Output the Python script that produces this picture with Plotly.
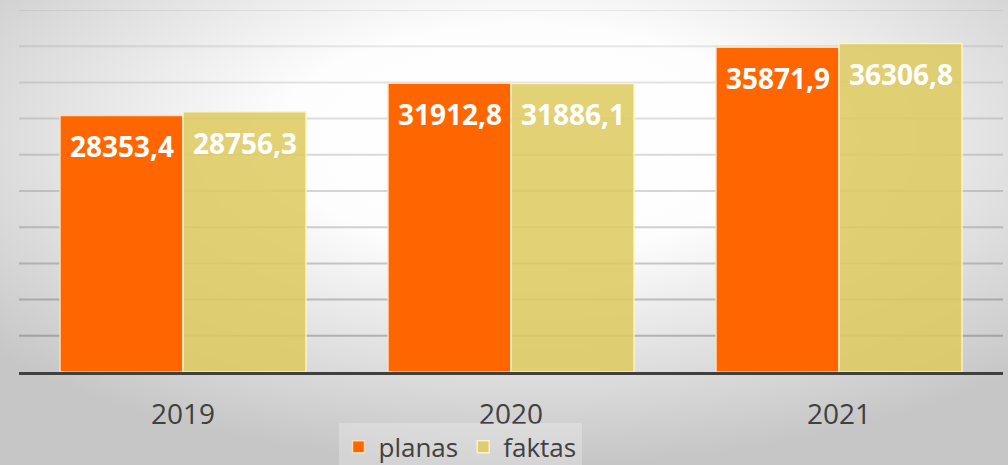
import base64
import plotly.graph_objects as go

years = ["2019", "2020", "2021"]
planas = [28353.4, 31912.8, 35871.9]
faktas = [28756.3, 31886.1, 36306.8]
series_names = ["planas", "faktas"]
grid_values = list(range(4000, 40001, 4000))

W, H = 1008, 465
ML, MR, MT, MB = 19, 5, 10, 93
PW, PH = W - ML - MR, H - MT - MB

svg = f'''<svg xmlns="http://www.w3.org/2000/svg" width="{W}" height="{H}" viewBox="0 0 {W} {H}" preserveAspectRatio="none">
<defs><radialGradient id="g" cx="52%" cy="30%" r="70%" gradientUnits="objectBoundingBox">
<stop offset="0" stop-color="#ffffff"/><stop offset="0.35" stop-color="#fdfdfd"/><stop offset="1" stop-color="#c6c6c6"/>
</radialGradient></defs><rect width="{W}" height="{H}" fill="url(#g)"/></svg>'''
src = "data:image/svg+xml;base64," + base64.b64encode(svg.encode()).decode()

xs = list(range(len(years)))
fig = go.Figure()
fig.add_bar(x=xs, y=planas, name=series_names[0], offsetgroup=0,
            marker=dict(color="#ff6600", line=dict(color="rgba(255,225,190,0.9)", width=1.5)))
fig.add_bar(x=xs, y=faktas, name=series_names[1], offsetgroup=1,
            marker=dict(color="rgba(222,202,95,0.86)", line=dict(color="rgba(255,245,200,0.9)", width=1.5)))

bw = 0.75 / 2
fmt = lambda v: f"{v:.1f}".replace(".", ",")
for i in xs:
    for k, vals in enumerate([planas, faktas]):
        fig.add_annotation(x=i + (k - 0.5) * bw, y=vals[i], text=fmt(vals[i]),
                           showarrow=False, yanchor="middle", yshift=-31,
                           font=dict(family="Open Sans", size=28, color="white", weight="bold"))

# gridlines fading toward the top, placed on the y axis values
n = len(grid_values)
for j, gv in enumerate(grid_values):
    a = 0.34 - 0.24 * j / (n - 1)
    fig.add_shape(type="line", xref="paper", x0=0, x1=1, yref="y", y0=gv, y1=gv,
                  line=dict(color=f"rgba(80,80,80,{a:.3f})", width=2), layer="below")

fig.update_layout(
    width=W, height=H,
    margin=dict(l=ML, r=MR, t=MT, b=MB, autoexpand=False),
    paper_bgcolor="white", plot_bgcolor="rgba(0,0,0,0)",
    barmode="group", bargap=0.25, bargroupgap=0,
    font=dict(family="Open Sans", color="#404040"),
    images=[dict(source=src, xref="paper", yref="paper", x=-ML / PW, y=1 + MT / PH,
                 sizex=W / PW, sizey=H / PH, sizing="stretch", layer="below", xanchor="left", yanchor="top")],
    showlegend=True,
    legend=dict(orientation="h", x=(460 - ML) / PW, xanchor="center", y=-0.207, yanchor="middle",
                font=dict(size=26, color="#404040"), bgcolor="rgba(255,255,255,0.25)",
                itemwidth=30, traceorder="normal", tracegroupgap=0),
)
fig.update_xaxes(range=[-0.5, 2.5], tickvals=xs, ticktext=years, showgrid=False,
                 showline=True, linecolor="#404040", linewidth=3, ticks="",
                 tickfont=dict(size=28, color="#404040"), ticklabelstandoff=15, zeroline=False)
fig.update_yaxes(range=[0, 40000], showticklabels=False, showgrid=False, zeroline=False)

fig.write_html("out.html", config={"displayModeBar": False},
               post_script="document.body.style.margin='0';document.body.style.overflow='hidden';")
